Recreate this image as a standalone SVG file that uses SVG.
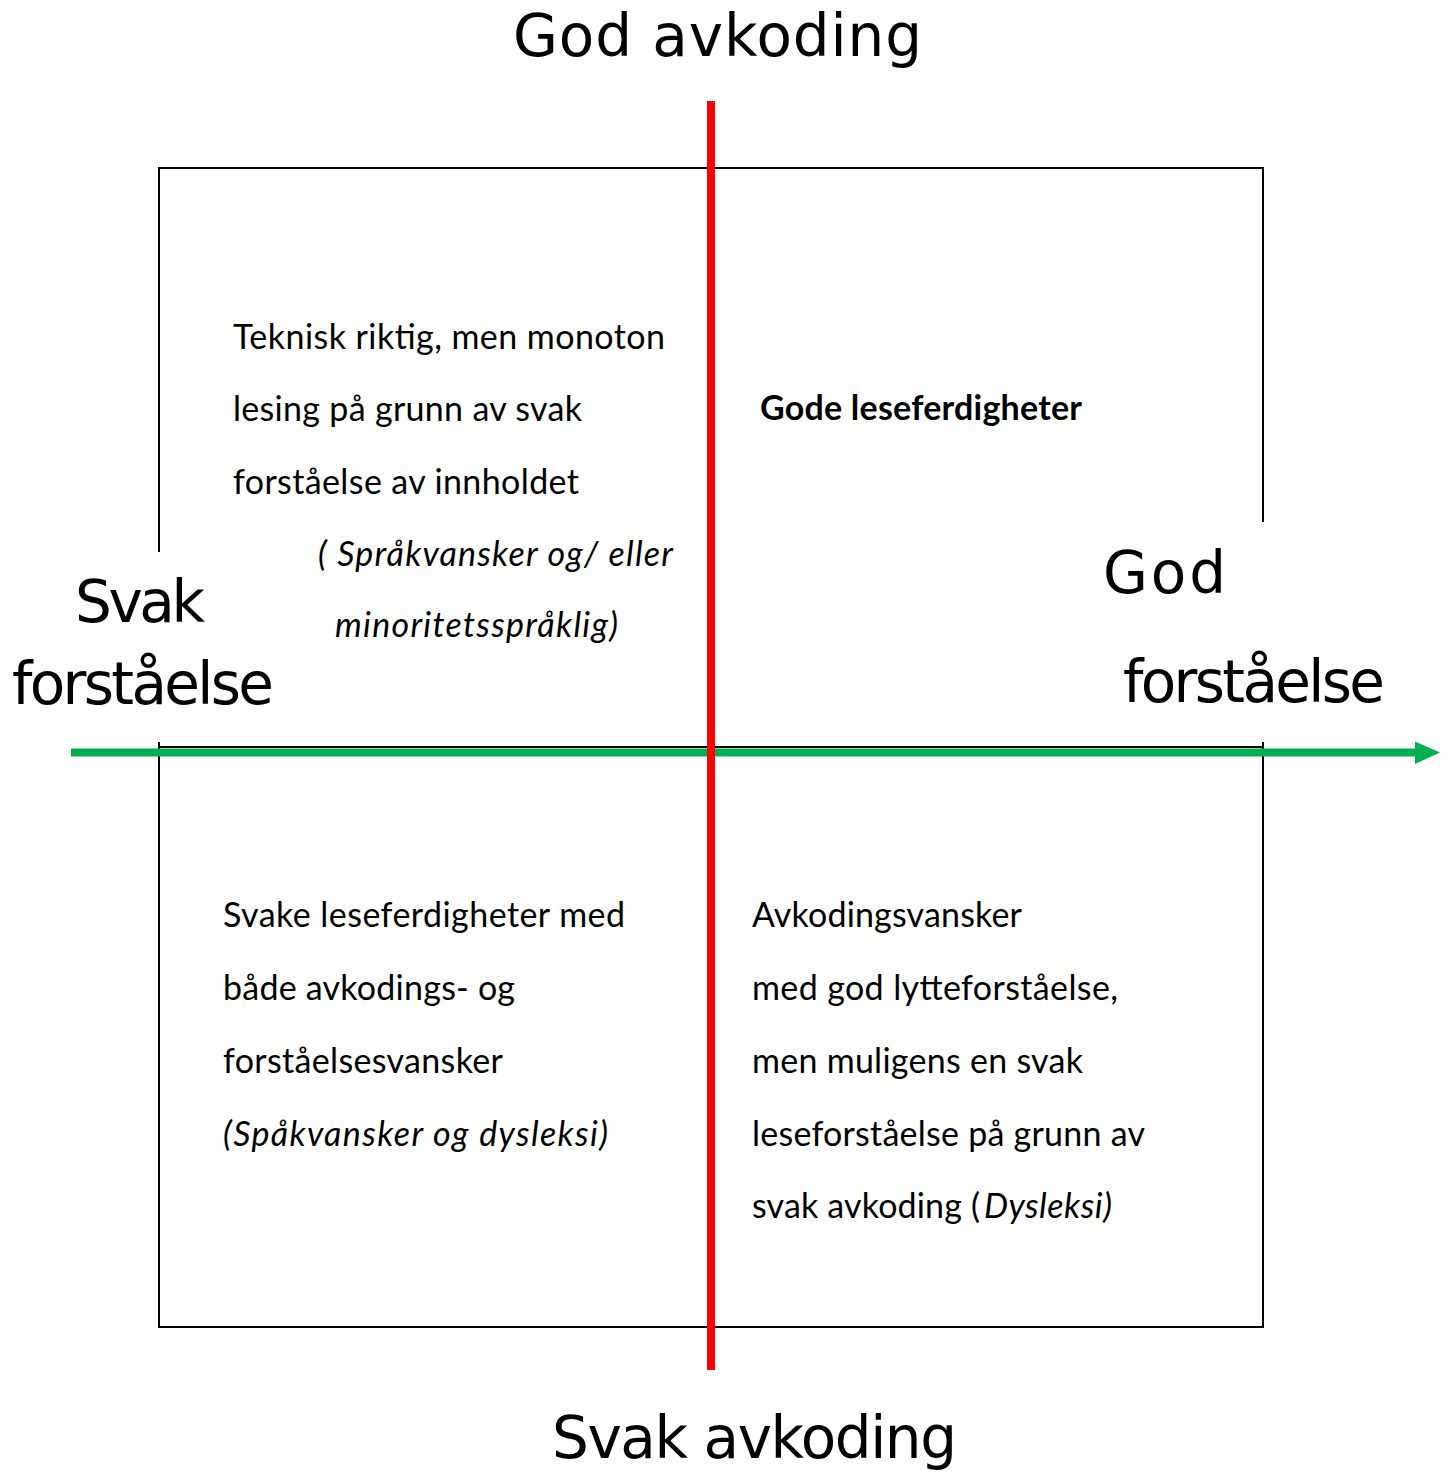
<svg xmlns="http://www.w3.org/2000/svg" width="1450" height="1474" viewBox="0 0 1450 1474">
  <style>
    .frame { stroke: #000000; stroke-width: 2; fill: none; }
    .head { font-family: "DejaVu Sans", "Liberation Sans", sans-serif; font-size: 58px; fill: #000000; }
    .body { font-family: Lato, "Liberation Sans", sans-serif; font-size: 34px; fill: #000000; }
    .it { font-style: italic; }
    .bold { font-weight: bold; }
  </style>
  <rect width="1450" height="1474" fill="#ffffff"/>
  <g id="frame">
    <path class="frame" d="M159,552 V168 H1263 V522"/>
    <path class="frame" d="M159,742 V1327 H1263 V742"/>
    <path class="frame" d="M159,747 H1263"/>
  </g>
  <g id="connectors">
    <line x1="71" y1="752.5" x2="1416" y2="752.5" stroke="#00B050" stroke-width="8"/>
    <polygon points="1415,741.5 1440,752.5 1415,764" fill="#00B050"/>
    <line x1="711" y1="101" x2="711" y2="1370" stroke="#FF0000" stroke-width="8"/>
  </g>
  <g id="label-god-avkoding">
    <text class="head" x="513" y="56" textLength="409">God avkoding</text>
  </g>
  <g id="label-svak-avkoding">
    <text class="head" x="552" y="1458" textLength="405">Svak avkoding</text>
  </g>
  <g id="label-svak-forstaelse">
    <text class="head" x="75" y="622" textLength="130">Svak</text>
    <text class="head" x="12" y="704" textLength="262">forståelse</text>
  </g>
  <g id="label-god-forstaelse">
    <text class="head" x="1103" y="593" textLength="123">God</text>
    <text class="head" x="1123" y="702" textLength="262">forståelse</text>
  </g>
  <g id="quadrant-top-left">
    <text class="body" x="233" y="349" textLength="432">Teknisk riktig, men monoton</text>
    <text class="body" x="233" y="421" textLength="349">lesing på grunn av svak</text>
    <text class="body" x="233" y="494" textLength="346">forståelse av innholdet</text>
    <text class="body it" x="318" y="566" textLength="355">( Språkvansker og/ eller</text>
    <text class="body it" x="335" y="637" textLength="283">minoritetsspråklig)</text>
  </g>
  <g id="quadrant-top-right">
    <text class="body bold" x="760" y="420" textLength="322">Gode leseferdigheter</text>
  </g>
  <g id="quadrant-bottom-left">
    <text class="body" x="223" y="927" textLength="402">Svake leseferdigheter med</text>
    <text class="body" x="223" y="1000" textLength="292">både avkodings- og</text>
    <text class="body" x="223" y="1073" textLength="280">forståelsesvansker</text>
    <text class="body it" x="223" y="1146" textLength="385">(Spåkvansker og dysleksi)</text>
  </g>
  <g id="quadrant-bottom-right">
    <text class="body" x="752" y="927" textLength="270">Avkodingsvansker</text>
    <text class="body" x="752" y="1000" textLength="366">med god lytteforståelse,</text>
    <text class="body" x="752" y="1073" textLength="331">men muligens en svak</text>
    <text class="body" x="752" y="1146" textLength="393">leseforståelse på grunn av</text>
    <text class="body" x="752" y="1218" textLength="228">svak avkoding (</text>
    <text class="body it" x="984" y="1218" textLength="128">Dysleksi)</text>
  </g>
</svg>
